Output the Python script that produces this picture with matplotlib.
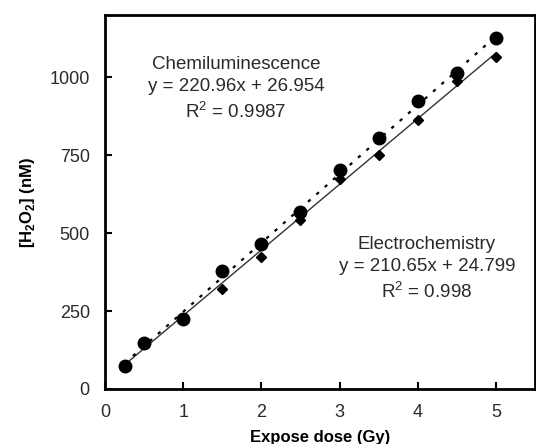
import matplotlib
matplotlib.use("Agg")
import matplotlib.pyplot as plt
import numpy as np

plt.rcParams['font.family'] = ['Liberation Sans', 'DejaVu Sans']
plt.rcParams['mathtext.fontset'] = 'custom'
plt.rcParams['mathtext.rm'] = 'Liberation Sans'
plt.rcParams['mathtext.bf'] = 'Liberation Sans:bold'

dose = [0.25, 0.5, 1, 1.5, 2, 2.5, 3, 3.5, 4, 4.5, 5]
chemi = [74, 149, 226, 380, 465, 568, 703, 805, 923, 1014, 1128]
electro = [78, 150, 228, 322, 424, 542, 673, 752, 863, 990, 1064]

chemi_fit = (220.96, 26.954)
electro_fit = (210.65, 24.799)

xticks = [0, 1, 2, 3, 4, 5]
yticks = [0, 250, 500, 750, 1000]

fig = plt.figure(figsize=(5.36, 4.44), dpi=100)
ax = fig.add_axes([0.196, 0.124, 0.802, 0.842])

xf = np.array([dose[0], dose[-1]])
ax.plot(xf, electro_fit[0] * xf + electro_fit[1], color='#333333', lw=1.0, ls='-', zorder=2)
ax.plot(xf, chemi_fit[0] * xf + chemi_fit[1], color='black', lw=1.6, ls=(0, (1.5, 3.5)), zorder=2)

ax.plot(dose, electro, ls='none', marker='D', ms=5.5, color='black', zorder=3)
ax.plot(dose, chemi, ls='none', marker='o', ms=9, color='black', zorder=4)

ax.set_xlim(0, 5.5)
ax.set_ylim(0, 1200)
ax.set_xticks(xticks)
ax.set_yticks(yticks)
ax.tick_params(direction='in', length=5, width=1.5, labelsize=13, labelcolor='#2a2a2a', pad=11)
for s in ax.spines.values():
    s.set_linewidth(2)

ax.set_xlabel('Expose dose (Gy)', fontsize=12, fontweight='bold', labelpad=6)
ax.set_ylabel(r'[H$_\mathbf{2}$O$_\mathbf{2}$] (nM)', fontsize=12, fontweight='bold', labelpad=9)

fig.text(236 / 536, 1 - 89 / 444, 'Chemiluminescence\ny = 220.96x + 26.954\nR$^2$ = 0.9987',
         fontsize=13.5, color='#2a2a2a', ha='center', va='center', linespacing=1.4)
fig.text(427 / 536, 1 - 269 / 444, 'Electrochemistry\ny = 210.65x + 24.799\nR$^2$ = 0.998',
         fontsize=13.5, color='#2a2a2a', ha='center', va='center', linespacing=1.4)

fig.savefig('out.png', dpi=100)
